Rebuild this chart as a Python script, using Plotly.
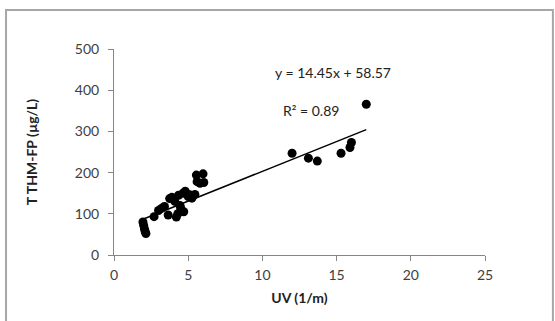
import plotly.graph_objects as go

# UV absorbance (1/m) and total THM formation potential (µg/L)
uv = [1.95, 2.0, 2.05, 2.1, 2.15, 2.7, 3.0, 3.2, 3.4, 3.65, 3.75, 3.9, 4.1, 4.2,
      4.3, 4.35, 4.45, 4.5, 4.65, 4.7, 4.8, 5.0, 5.1, 5.25, 5.45, 5.55, 5.6, 5.8,
      6.0, 6.05, 12.0, 13.1, 13.7, 15.3, 15.9, 16.0, 17.0]
thm = [80, 72, 64, 57, 52, 93, 108, 113, 118, 97, 137, 140, 130, 92,
       100, 145, 120, 113, 150, 105, 155, 142, 146, 138, 147, 194, 178, 174,
       197, 176, 247, 235, 228, 247, 261, 273, 366]

# linear trendline
slope, intercept, r2 = 14.45, 58.57, 0.89
fit_x = [min(uv), max(uv)]
fit_y = [slope * v + intercept for v in fit_x]

x_ticks = [0, 5, 10, 15, 20, 25]
y_ticks = [0, 100, 200, 300, 400, 500]

FONT = "Lato"
AX = "#868686"

fig = go.Figure()
fig.add_trace(go.Scatter(x=fit_x, y=fit_y, mode="lines",
                         line=dict(color="black", width=1.5), hoverinfo="skip"))
fig.add_trace(go.Scatter(x=uv, y=thm, mode="markers",
                         marker=dict(color="black", size=9)))

fig.add_annotation(x=14.76, y=442, text=f"y = {slope}x + {intercept}", showarrow=False,
                   font=dict(family=FONT, size=14, color="#222"))
fig.add_annotation(x=13.3, y=350, text=f"R² = {r2}", showarrow=False,
                   font=dict(family=FONT, size=14, color="#222"))

# outer chart border
fig.add_shape(type="rect", xref="paper", yref="paper",
              x0=-0.291, x1=1.183, y0=-0.36, y1=1.189,
              line=dict(color="#a6a6a6", width=2))

fig.update_layout(
    width=555, height=321,
    margin=dict(l=114, r=70, t=49, b=66),
    paper_bgcolor="white", plot_bgcolor="white",
    showlegend=False,
    font=dict(family=FONT, size=14, color="#404040"),
)
fig.update_xaxes(range=[0, 25], tickvals=x_ticks, showline=True, linecolor=AX,
                 ticks="outside", ticklen=5, tickcolor=AX, showgrid=False, zeroline=False,
                 ticklabelstandoff=2,
                 title=dict(text="<b>UV (1/m)</b>", standoff=11,
                            font=dict(family=FONT, size=14, color="#222")))
fig.update_yaxes(range=[0, 500], tickvals=y_ticks, showline=True, linecolor=AX,
                 ticks="outside", ticklen=5, tickcolor=AX, showgrid=False, zeroline=False,
                 ticklabelstandoff=6,
                 title=dict(text="<b>T&nbsp;THM-FP (µg/L)</b>", standoff=33,
                            font=dict(family=FONT, size=14, color="#222")))

fig.write_html("out.html")
